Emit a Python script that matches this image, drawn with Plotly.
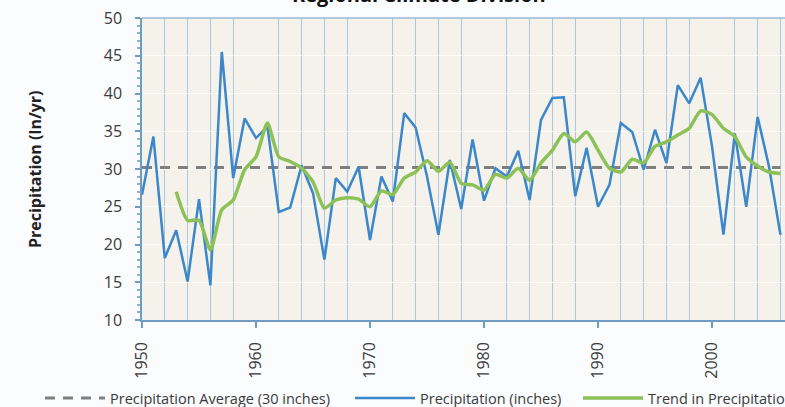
import plotly.graph_objects as go

years = list(range(1950, 2007))
precip = [26.6, 34.3, 18.2, 21.9, 15.1, 26.0, 14.6, 45.5, 28.8, 36.7,
          34.1, 35.6, 24.3, 24.9, 30.5, 26.8, 18.0, 28.8, 27.0, 30.3,
          20.6, 29.0, 25.7, 37.4, 35.5, 29.0, 21.3, 31.2, 24.7, 33.9,
          25.8, 30.1, 29.0, 32.4, 25.9, 36.5, 39.4, 39.5, 26.4, 32.8,
          25.0, 27.9, 36.1, 34.9, 29.9, 35.2, 30.8, 41.1, 38.7, 42.1,
          33.0, 21.3, 34.7, 25.0, 36.9, 30.3, 21.3]
trend_years = list(range(1953, 2007))
trend = [27.0, 23.2, 23.2, 19.3, 24.6, 25.9, 29.9, 31.6, 36.1, 31.6,
         31.0, 30.1, 28.3, 24.8, 25.9, 26.2, 26.0, 25.0, 27.1, 26.6,
         28.8, 29.6, 31.1, 29.7, 30.9, 28.1, 27.9, 27.2, 29.3, 28.8,
         30.1, 28.5, 30.8, 32.5, 34.7, 33.6, 34.9, 32.5, 30.1, 29.6,
         31.3, 30.8, 33.0, 33.6, 34.5, 35.4, 37.7, 37.2, 35.4, 34.3,
         31.6, 30.4, 29.6, 29.4]
average_value = 30.2
avg_line = [average_value for _ in years]

name_avg = "Precipitation Average (30 inches)"
name_precip = "Precipitation (inches)"
name_trend = "Trend in Precipitation"
title_text = "Regional Climate Division"
y_title = "Precipitation (In/yr)"

FONT = "Open Sans"
TXT = "#3a3a3a"

fig = go.Figure()
fig.add_trace(go.Scatter(x=years, y=avg_line, mode="lines", name=name_avg,
                         line=dict(color="#7f7f7f", width=3, dash="10px,8px"),
                         legend="legend"))
fig.add_trace(go.Scatter(x=years, y=precip, mode="lines", name=name_precip,
                         line=dict(color="#3b87c9", width=2.5),
                         legend="legend2"))
fig.add_trace(go.Scatter(x=trend_years, y=trend, mode="lines", name=name_trend,
                         line=dict(color="#8cc157", width=3.5, shape="spline", smoothing=0.6),
                         legend="legend3"))

leg_common = dict(orientation="h", yanchor="middle", xanchor="left",
                  font=dict(family=FONT, size=14.5, color=TXT),
                  bgcolor="rgba(0,0,0,0)", itemwidth=60)
plot_l, plot_w, plot_t, plot_h = 142, 643, 18, 302
def px_x(px):
    return (px - plot_l) / plot_w
leg_y = (plot_t + plot_h - 398) / plot_h

fig.update_layout(
    width=785, height=407,
    margin=dict(l=142, r=0, t=18, b=87, autoexpand=False),
    paper_bgcolor="#fbfcfe",
    plot_bgcolor="#f4f2eb",
    showlegend=True,
    legend=dict(x=px_x(40), y=leg_y, **leg_common),
    legend2=dict(x=px_x(350), y=leg_y, **leg_common),
    legend3=dict(x=px_x(578), y=leg_y, **leg_common),
    font=dict(family=FONT, color=TXT),
)
fig.update_xaxes(
    range=[1950, 2006.4], dtick=10, tick0=1950, tickangle=-90,
    ticks="outside", ticklen=6, tickcolor="#6f9cc0", tickwidth=1.5,
    ticklabelstandoff=8,
    tickfont=dict(family=FONT, size=16, color=TXT),
    showline=True, linecolor="#6f9cc0", linewidth=1.5,
    showgrid=False,
    minor=dict(dtick=2, tick0=1950, showgrid=True, gridcolor="#adc6de", gridwidth=1.4,
               ticks=""),
    zeroline=False,
)
fig.update_yaxes(
    range=[10, 50], dtick=5, tick0=10,
    ticks="outside", ticklen=5, tickcolor="#6f9cc0", tickwidth=1.5,
    ticklabelstandoff=10,
    tickfont=dict(family=FONT, size=16, color=TXT),
    showline=True, linecolor="#6f9cc0", linewidth=1.5, mirror=False,
    showgrid=True, gridcolor="#fbfbf8", gridwidth=1,
    minor=dict(dtick=1, ticks="outside", ticklen=3, tickcolor="#8fb3cf", showgrid=False),
    zeroline=False,
)
# top border line
fig.add_shape(type="line", xref="paper", yref="paper", x0=0, x1=1, y0=1, y1=1,
              line=dict(color="#9dbad3", width=1.5))
fig.add_annotation(text=title_text, xref="paper", yref="paper", x=px_x(419), y=1,
                   xanchor="center", yanchor="bottom", yshift=8, showarrow=False,
                   font=dict(family=FONT, size=20, color="#111111", weight="bold"))
fig.add_annotation(text=y_title, xref="paper", yref="paper", x=0, y=0.5,
                   xanchor="center", yanchor="middle", xshift=-107, textangle=-90,
                   showarrow=False,
                   font=dict(family=FONT, size=16, color="#222222", weight="bold"))

fig.write_html("out.html", config={"displayModeBar": False},
               post_script="document.body.style.margin='0';document.body.style.overflow='hidden';")
